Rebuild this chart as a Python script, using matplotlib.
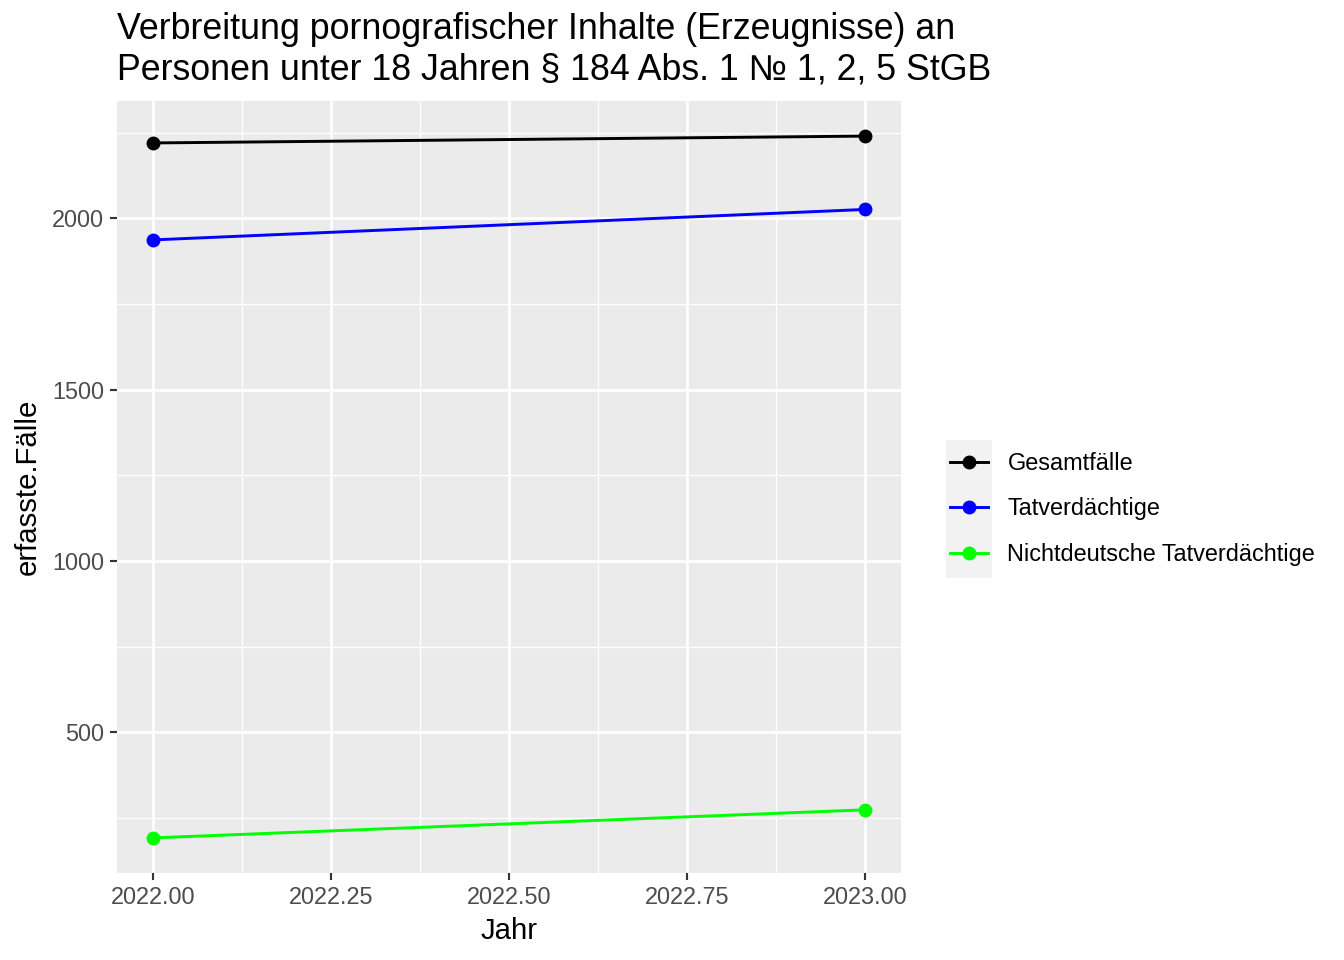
import matplotlib
matplotlib.use("Agg")
import matplotlib.pyplot as plt
from matplotlib.patches import Rectangle
from matplotlib.ticker import FixedLocator

plt.rcParams['font.family'] = ['Liberation Sans', 'DejaVu Sans']

# values
years = [2022, 2023]
gesamt = [2220, 2240]
tatverd = [1937, 2026]
nichtdeutsch = [192, 274]
labels = ["Gesamtfälle", "Tatverdächtige", "Nichtdeutsche Tatverdächtige"]
colors = ["black", "blue", "#00FF00"]

fig = plt.figure(figsize=(7, 5), dpi=192)
ax = fig.add_axes([117 / 1344, 87 / 960, 784 / 1344, 772 / 960])
ax.set_facecolor("#EBEBEB")

for series, lab, col in zip([gesamt, tatverd, nichtdeutsch], labels, colors):
    ax.plot(years, series, color=col, lw=1.1, marker="o", ms=4.2,
            label=lab, zorder=3)

lo = min(nichtdeutsch)
hi = max(gesamt)
pad = (hi - lo) * 0.05
ax.set_ylim(lo - pad, hi + pad)
ax.set_xlim(2022 - 0.05, 2023 + 0.05)

ax.xaxis.set_major_locator(FixedLocator([2022.0, 2022.25, 2022.5, 2022.75, 2023.0]))
ax.xaxis.set_minor_locator(FixedLocator([2022.125, 2022.375, 2022.625, 2022.875]))
ax.yaxis.set_major_locator(FixedLocator([500, 1000, 1500, 2000]))
ax.yaxis.set_minor_locator(FixedLocator([250, 750, 1250, 1750, 2250]))
ax.set_xticklabels(["2022.00", "2022.25", "2022.50", "2022.75", "2023.00"])

ax.grid(which="major", color="white", lw=1.0, zorder=0)
ax.grid(which="minor", color="white", lw=0.5, zorder=0)
ax.set_axisbelow(True)
for s in ax.spines.values():
    s.set_visible(False)
ax.tick_params(which="major", length=2.75, width=0.8, color="#333333",
               labelcolor="#4D4D4D", labelsize=8.8, pad=2)
ax.tick_params(which="minor", length=0)

ax.set_xlabel("Jahr", fontsize=11, labelpad=3)
ax.set_ylabel("erfasste.Fälle", fontsize=11, labelpad=4)
ax.set_title("Verbreitung pornografischer Inhalte (Erzeugnisse) an\n"
             "Personen unter 18 Jahren § 184 Abs. 1 № 1, 2, 5 StGB",
             loc="left", fontsize=13.4, pad=8, linespacing=1.2)

# legend key background like ggplot
fig.patches.append(Rectangle((946 / 1344, 1 - 578 / 960), 46 / 1344, 138 / 960,
                             transform=fig.transFigure, facecolor="#F2F2F2",
                             edgecolor="none", zorder=0))
fig.legend(loc="center left", bbox_to_anchor=(950 / 1344, 1 - 509 / 960),
           frameon=False, fontsize=8.8, handlelength=1.6, handletextpad=0.85,
           labelspacing=0.97, borderpad=0, borderaxespad=0)

fig.savefig("out.png", dpi=192)
